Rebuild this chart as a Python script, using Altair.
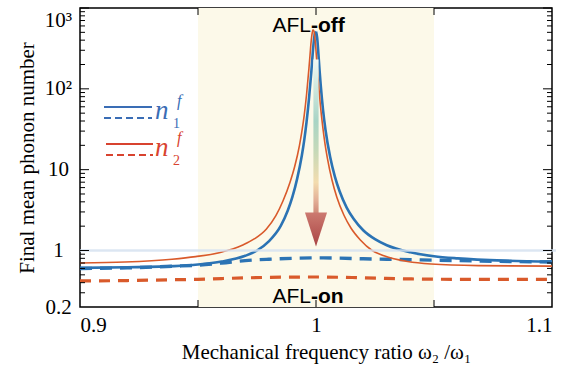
import altair as alt
import pandas as pd

# ---- final mean phonon numbers vs. mechanical frequency ratio w2/w1 ----
# mode 1, AFL off (solid blue): left flank up to the peak, then right flank
b_off_left_x = [0.900, 0.920, 0.940, 0.950, 0.960, 0.970, 0.975, 0.980, 0.985, 0.988,
                0.990, 0.992, 0.994, 0.995, 0.996, 0.997, 0.998, 0.9985, 0.999, 0.9995,
                1.000]
b_off_left_n = [0.61, 0.62, 0.64, 0.67, 0.73, 0.86, 1.00, 1.30, 2.0, 3.1,
                4.6, 7.7, 15.0, 23, 39, 74, 160, 250, 370, 478,
                510]
b_off_right_x = [1.000, 1.0005, 1.001, 1.0015, 1.002, 1.003, 1.004, 1.006, 1.008, 1.010,
                 1.013, 1.016, 1.020, 1.025, 1.030, 1.040, 1.050, 1.060, 1.080, 1.100]
b_off_right_n = [510, 427, 277, 171, 111, 54, 31.4, 14.3, 8.2, 5.4,
                 3.4, 2.45, 1.78, 1.38, 1.16, 0.95, 0.85, 0.80, 0.75, 0.73]

# mode 2, AFL off (solid orange)
o_off_left_x = [0.900, 0.919, 0.939, 0.949, 0.959, 0.969, 0.974, 0.979, 0.983, 0.986,
                0.989, 0.991, 0.993, 0.994, 0.995, 0.996, 0.997, 0.9975, 0.998, 0.9985,
                0.9988]
o_off_left_n = [0.70, 0.72, 0.78, 0.84, 0.94, 1.17, 1.40, 1.85, 2.7, 4.1,
                7.0, 11, 20, 29.5, 47, 85, 178, 270, 400, 510,
                540]
o_off_right_x = [0.9988, 0.9993, 0.9998, 1.0003, 1.0008, 1.0018, 1.0028, 1.0038, 1.0048,
                 1.0068, 1.0088, 1.0118, 1.0148, 1.0188, 1.0238, 1.0288, 1.0388, 1.0488,
                 1.0688, 1.100]
o_off_right_n = [540, 491, 353, 225, 143, 65, 35, 21, 14,
                 7.4, 4.6, 2.75, 1.9, 1.35, 1.0, 0.86, 0.73, 0.68,
                 0.65, 0.64]

# mode 1, AFL on (dashed blue)
b_on_x = [0.90, 0.92, 0.94, 0.95, 0.96, 0.97, 0.98, 0.99, 1.00, 1.01, 1.02, 1.03,
          1.04, 1.05, 1.07, 1.10]
b_on_n = [0.60, 0.61, 0.64, 0.66, 0.70, 0.75, 0.78, 0.80, 0.81, 0.805, 0.79, 0.78,
          0.77, 0.76, 0.74, 0.72]

# mode 2, AFL on (dashed orange)
o_on_x = [0.90, 0.92, 0.94, 0.95, 0.96, 0.98, 1.00, 1.02, 1.04, 1.06, 1.08, 1.10]
o_on_n = [0.42, 0.425, 0.435, 0.44, 0.45, 0.465, 0.47, 0.46, 0.445, 0.44, 0.44, 0.44]

# shaded resonance window
band_lo, band_hi = [0.95], [1.05]

# axis ticks
x_ticks = [0.95, 1.00, 1.05]
x_labels = [0.9, 1.0, 1.1]
y_labels = [0.2, 1, 10, 100, 1000]
y_major = [1, 10, 100, 1000]
y_minor = [0.3, 0.4, 0.5, 0.6, 0.7, 0.8, 0.9,
           2, 3, 4, 5, 6, 7, 8, 9,
           20, 30, 40, 50, 60, 70, 80, 90,
           200, 300, 400, 500, 600, 700, 800, 900]

# cooling arrow (shaft from the AFL-off peak down to the head)
arrow_x = [1.0]
arrow_top, arrow_bottom = [230], [2.9]
arrow_head = [1.82]

W, H = 472, 299
SERIF = "Liberation Serif"
SANS = "Liberation Sans"
BLUE = "#2b73b4"
ORANGE = "#d95a2b"

xsc = alt.Scale(domain=[0.9, 1.1], nice=False, zero=False)
ysc = alt.Scale(type="log", domain=[0.2, 1000], nice=False)

x_axis = alt.Axis(
    values=x_labels, format=".2~f", ticks=False, tickSize=0, grid=False, domain=False,
    labelFont=SERIF, labelFontSize=21, labelColor="black", labelPadding=7,
    title="Mechanical frequency ratio ω₂ /ω₁", titleFont=SERIF, titleFontSize=21,
    titleFontWeight="normal", titleColor="black", titlePadding=6,
    titleX=246, titleAlign="center",
)
y_axis = alt.Axis(
    values=y_labels, ticks=False, tickSize=0, grid=False, domain=False,
    labelExpr="datum.value == 1000 ? '10³' : datum.value == 100 ? '10²' : "
              "datum.value == 10 ? '10' : datum.value == 1 ? '1' : '0.2'",
    labelFont=SERIF, labelFontSize=21, labelColor="black", labelAlign="center",
    labelBaseline="middle", labelPadding=22,
    labelOffset={"condition": {"test": "datum.value == 1000", "value": 12}, "value": 0},
    title="Final mean phonon number", titleFont=SERIF, titleFontSize=21,
    titleFontWeight="normal", titleColor="black", titlePadding=7,
)


def X(field="ratio"):
    return alt.X(f"{field}:Q", scale=xsc, axis=x_axis)


def Y(field="n"):
    return alt.Y(f"{field}:Q", scale=ysc, axis=y_axis)


band = alt.Chart(pd.DataFrame({"ratio": band_lo, "ratio2": band_hi})).mark_rect(
    color="#fcf9e9"
).encode(x=X(), x2="ratio2:Q", y=alt.value(0), y2=alt.value(H))

# invisible layer that carries the y axis
y_carrier = alt.Chart(pd.DataFrame({"n": y_labels})).mark_point(opacity=0).encode(
    y=Y(), x=alt.value(0),
)


def curve(parts, color, width, dash=None):
    # each part is drawn as its own monotone piece (flanks meet at the peak)
    frames = [pd.DataFrame({"ratio": xs, "n": ys, "part": i})
              for i, (xs, ys) in enumerate(parts)]
    d = pd.concat(frames, ignore_index=True)
    kw = dict(color=color, strokeWidth=width, clip=True, strokeCap="butt",
              interpolate="monotone")
    if dash:
        kw["strokeDash"] = dash
    return alt.Chart(d).mark_line(**kw).encode(
        x=X(), y=Y(), detail="part:N", order="ratio:Q",
    )


o_on = curve([(o_on_x, o_on_n)], ORANGE, 3.2, [11, 8])
b_on = curve([(b_on_x, b_on_n)], BLUE, 3.4, [12, 8])
b_off = curve([(b_off_left_x, b_off_left_n), (b_off_right_x, b_off_right_n)], BLUE, 2.6)
o_off = curve([(o_off_left_x, o_off_left_n), (o_off_right_x, o_off_right_n)], ORANGE, 1.6)

unity = alt.Chart(pd.DataFrame({"n": [1]})).mark_rule(
    color="#d6e2f0", strokeWidth=2.5, opacity=0.85
).encode(y=Y(), x=alt.value(0), x2=alt.value(W + 4))

shaft_grad = alt.Gradient(
    gradient="linear", x1=0, x2=0, y1=0, y2=1,
    stops=[
        alt.GradientStop(color="#f0f8f4", offset=0.0),
        alt.GradientStop(color="#a8d4c5", offset=0.4),
        alt.GradientStop(color="#c6d9b8", offset=0.6),
        alt.GradientStop(color="#f3dcae", offset=0.8),
        alt.GradientStop(color="#e2ae96", offset=0.92),
        alt.GradientStop(color="#cf8a78", offset=1.0),
    ],
)
shaft = alt.Chart(pd.DataFrame({
    "ratio": [arrow_x[0] - 0.0011], "ratio2": [arrow_x[0] + 0.0011],
    "n": arrow_top, "n2": arrow_bottom,
})).mark_rect(color=shaft_grad).encode(x=X(), x2="ratio2:Q", y=Y(), y2="n2:Q")

head_grad = alt.Gradient(
    gradient="linear", x1=0, x2=0, y1=0, y2=1,
    stops=[alt.GradientStop(color="#cc7a70", offset=0.0),
           alt.GradientStop(color="#a94444", offset=1.0)],
)
head = alt.Chart(pd.DataFrame({"ratio": arrow_x, "n": arrow_head})).mark_point(
    shape="M-0.65,-1L0.65,-1L0,1Z", size=1156, filled=True, opacity=1,
    color=head_grad, strokeWidth=0,
).encode(x=X(), y=Y())


# inward-pointing frame ticks
def yticks(vals, length):
    d = pd.DataFrame({"n": vals})
    left = alt.Chart(d).mark_rule(color="black", strokeWidth=1).encode(
        y=Y(), x=alt.value(0), x2=alt.value(length))
    right = alt.Chart(d).mark_rule(color="black", strokeWidth=1).encode(
        y=Y(), x=alt.value(W), x2=alt.value(W - length))
    return [left, right]


def xticks(vals, length):
    d = pd.DataFrame({"ratio": vals})
    bottom = alt.Chart(d).mark_rule(color="black", strokeWidth=1).encode(
        x=X(), y=alt.value(H), y2=alt.value(H - length))
    top = alt.Chart(d).mark_rule(color="black", strokeWidth=1).encode(
        x=X(), y=alt.value(0), y2=alt.value(length))
    return [bottom, top]


tick_layers = yticks(y_major, 9) + yticks(y_minor, 5) + xticks(x_ticks, 7)


def label(text, x, y, size, font, weight="normal", style="normal", align="left", color="black"):
    return alt.Chart(pd.DataFrame({"t": [text]})).mark_text(
        font=font, fontSize=size, fontWeight=weight, fontStyle=style,
        align=align, baseline="alphabetic", color=color,
    ).encode(text="t:N", x=alt.value(x), y=alt.value(y))


texts = [
    label("AFL", 231, 24, 21, SANS, align="right"),
    label("-off", 231, 24, 21, SANS, weight="bold"),
    label("AFL", 231, 295, 21, SANS, align="right"),
    label("-on", 231, 295, 21, SANS, weight="bold"),
]

# legend
LBLUE, LRED = "#3a6db5", "#d8432f"


def key_line(x1, x2, y, color, dash=None):
    kw = dict(color=color, strokeWidth=2.2, strokeCap="butt")
    if dash:
        kw["strokeDash"] = dash
    return alt.Chart(pd.DataFrame({"k": [0]})).mark_rule(**kw).encode(
        x=alt.value(x1), x2=alt.value(x2), y=alt.value(y))


legend = [
    key_line(24, 72, 99, LBLUE),
    key_line(24, 72, 110, LBLUE, [7, 4]),
    key_line(26, 73, 136, LRED),
    key_line(26, 73, 147, LRED, [7, 4]),
    label("n", 75, 111, 27, SERIF, style="italic", color=LBLUE),
    label("f", 97, 98, 16, SERIF, style="italic", color=LBLUE),
    label("1", 93, 120, 14, SERIF, color=LBLUE),
    label("n", 75, 148, 27, SERIF, style="italic", color=LRED),
    label("f", 97, 135, 16, SERIF, style="italic", color=LRED),
    label("2", 93, 157, 14, SERIF, color=LRED),
]

chart = alt.layer(
    band, y_carrier, o_on, b_on, b_off, o_off, unity, shaft, head,
    *tick_layers, *texts, *legend,
).properties(
    width=W, height=H,
    autosize=alt.AutoSizeParams(type="none"),
    padding={"left": 80, "top": 8, "right": 16, "bottom": 59},
    background="white",
).configure_view(stroke="black", strokeWidth=1.5)

chart.save("out.html", embed_options={"renderer": "svg", "actions": False})
